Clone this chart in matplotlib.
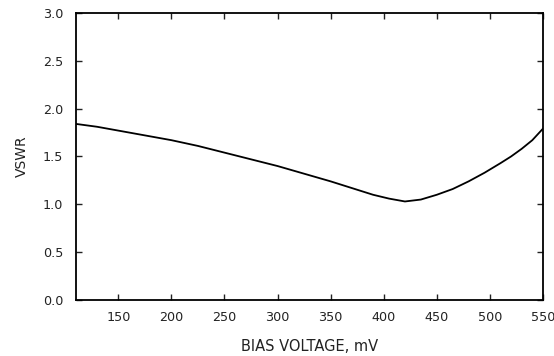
import numpy as np
import matplotlib.pyplot as plt

plt.rcParams['font.family'] = ['DejaVu Sans']

# values
bias_mv = [110, 130, 150, 175, 200, 225, 250, 275, 300, 325, 350, 370, 390,
           405, 420, 435, 450, 465, 480, 495, 510, 520, 530, 540, 550]
vswr = [1.84, 1.81, 1.77, 1.72, 1.67, 1.61, 1.54, 1.47, 1.40, 1.32, 1.24, 1.17,
        1.10, 1.06, 1.03, 1.05, 1.10, 1.16, 1.24, 1.33, 1.43, 1.50, 1.58, 1.67, 1.79]

x_ticks = [150, 200, 250, 300, 350, 400, 450, 500, 550]
y_ticks = [0.0, 0.5, 1.0, 1.5, 2.0, 2.5, 3.0]

fig = plt.figure(figsize=(5.54, 3.56), dpi=100)
ax = fig.add_axes([0.137, 0.157, 0.843, 0.807])

ax.plot(bias_mv, vswr, color='black', lw=1.3)

ax.set_xlim(110, 550)
ax.set_ylim(0, 3.0)
ax.set_xticks(x_ticks)
ax.set_yticks(y_ticks)
ax.set_yticklabels(['%.1f' % v for v in y_ticks])

ax.tick_params(direction='in', length=4, width=1, top=True, right=True,
               labelsize=9.2, pad=7.5, colors='#222222')
ax.tick_params(axis='y', pad=9)
for s in ax.spines.values():
    s.set_linewidth(1.3)

ax.set_xlabel('BIAS VOLTAGE, mV', fontsize=10.5, labelpad=11, color='#222222')
ax.set_ylabel('VSWR', fontsize=10, labelpad=10, color='#222222')

fig.savefig('out.png', dpi=100)
